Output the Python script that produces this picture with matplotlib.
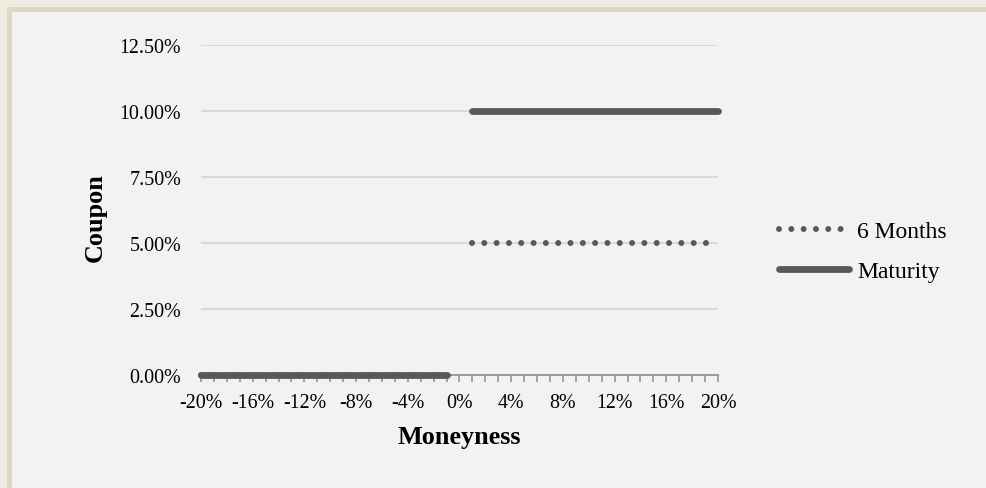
import numpy as np
import matplotlib
matplotlib.use("Agg")
import matplotlib.pyplot as plt
from matplotlib.patches import Rectangle

plt.rcParams['font.family'] = ['Liberation Serif', 'DejaVu Serif']
plt.rcParams['lines.scale_dashes'] = False

# ---- data ----
categories = ["-20%", "-19%", "-18%", "-17%", "-16%", "-15%", "-14%", "-13%", "-12%", "-11%",
              "-10%", "-9%", "-8%", "-7%", "-6%", "-5%", "-4%", "-3%", "-2%", "-1%",
              "0%",
              "1%", "2%", "3%", "4%", "5%", "6%", "7%", "8%", "9%", "10%",
              "11%", "12%", "13%", "14%", "15%", "16%", "17%", "18%", "19%", "20%"]
six_months = [0, 0, 0, 0, 0, 0, 0, 0, 0, 0, 0, 0, 0, 0, 0, 0, 0, 0, 0, 0,
              np.nan,
              5, 5, 5, 5, 5, 5, 5, 5, 5, 5, 5, 5, 5, 5, 5, 5, 5, 5, 5, 5]
maturity = [0, 0, 0, 0, 0, 0, 0, 0, 0, 0, 0, 0, 0, 0, 0, 0, 0, 0, 0, 0,
            np.nan,
            10, 10, 10, 10, 10, 10, 10, 10, 10, 10, 10, 10, 10, 10, 10, 10, 10, 10, 10, 10]
y_ticks = [0.0, 2.5, 5.0, 7.5, 10.0, 12.5]
series_names = ["6 Months", "Maturity"]

W, H = 987, 489
fig = plt.figure(figsize=(W / 100, H / 100), dpi=100)
fig.patch.set_facecolor('#F2F2F2')

# beige frame strips
fig.patches.append(Rectangle((0, 1 - 8 / H), 1, 8 / H, transform=fig.transFigure,
                             facecolor='#EEEBE0', edgecolor='none', zorder=0))
fig.patches.append(Rectangle((0, 1 - 13 / H), 1, 5 / H, transform=fig.transFigure,
                             facecolor='#DDD8C3', edgecolor='none', zorder=0))
fig.patches.append(Rectangle((0, 0), 7 / W, 1, transform=fig.transFigure,
                             facecolor='#EEEBE0', edgecolor='none', zorder=0))
fig.patches.append(Rectangle((7 / W, 0), 5 / W, 1 - 8 / H, transform=fig.transFigure,
                             facecolor='#DDD8C3', edgecolor='none', zorder=0))

ax = fig.add_axes([201 / W, 1 - 376 / H, (718 - 201) / W, (376 - 46) / H])
ax.set_facecolor('none')

x = np.arange(len(categories))
line_color = '#595959'
lw = 6.8 * 0.72
lw_dot = 6.0 * 0.72

l1, = ax.plot(x, six_months, color=line_color, lw=lw_dot, dashes=(0.01, 12.3 * 0.72),
              dash_capstyle='round', clip_on=False, zorder=3, label=series_names[0])
l2, = ax.plot(x, maturity, color=line_color, lw=lw, solid_capstyle='round',
              clip_on=False, zorder=4, label=series_names[1])

ax.set_xlim(0, len(categories) - 1)
ax.set_ylim(0, 12.5)
ax.set_yticks(y_ticks)
ax.set_yticklabels([f"{v:.2f}%" for v in y_ticks])
ax.set_xticks(x)
ax.set_xticklabels([c if i % 4 == 0 else '' for i, c in enumerate(categories)])

for v in y_ticks[1:]:
    ax.axhline(v, color='#D5D5D5', lw=1.2, zorder=1)

for s in ['top', 'right', 'left']:
    ax.spines[s].set_visible(False)
ax.spines['bottom'].set_color('#8C8C8C')
ax.spines['bottom'].set_linewidth(1.2)
ax.spines['bottom'].set_zorder(2)

ax.tick_params(axis='y', length=0, pad=14.4, labelsize=14.4, labelcolor='black')
ax.tick_params(axis='x', direction='out', length=5, width=1.1, color='#8C8C8C',
               pad=8, labelsize=14.4, labelcolor='black')

ax.set_xlabel("Moneyness", fontsize=18.8, fontweight='bold')
ax.xaxis.label.set_va('center')
ax.xaxis.set_label_coords(0.5, -(438 - 376) / 330)
ax.set_ylabel("Coupon", fontsize=18.8, fontweight='bold')
ax.yaxis.label.set_va('center')
ax.yaxis.set_label_coords(-(201 - 95) / 517, (376 - 218) / 330)

leg = ax.legend(handles=[l1, l2], loc='center left',
                bbox_to_anchor=(779 / W, 1 - 252.5 / H), bbox_transform=fig.transFigure,
                frameon=False, fontsize=17, handlelength=2.95, handletextpad=0.35,
                labelspacing=0.8, borderpad=0, borderaxespad=0)

fig.savefig("out.png", dpi=100, facecolor=fig.get_facecolor())
